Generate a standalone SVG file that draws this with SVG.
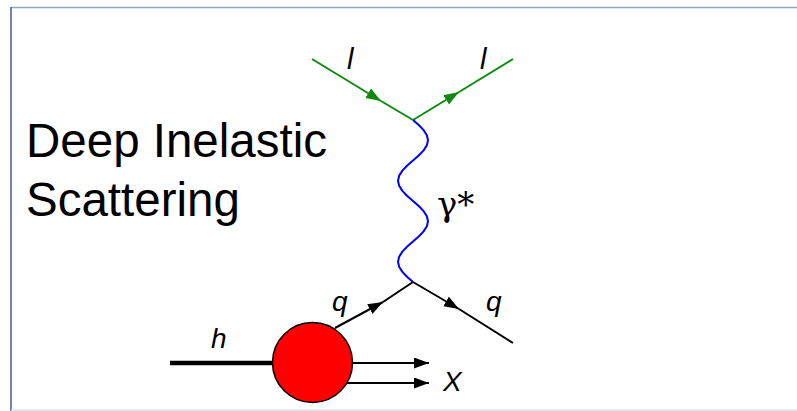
<svg xmlns="http://www.w3.org/2000/svg" width="797" height="411" viewBox="0 0 797 411">
<style>
  .lab { font-family: "Liberation Sans", Arial, sans-serif; font-style: italic; fill: #000; }
  .title { font-family: "Liberation Sans", Arial, sans-serif; font-size: 47.5px; fill: #000; }
  .lep { stroke: #118811; stroke-width: 2; fill: none; }
  .qk { stroke: #000; stroke-width: 2; fill: none; }
</style>
<defs>
  <marker id="ag" markerUnits="userSpaceOnUse" markerWidth="16" markerHeight="12" refX="15" refY="5.5" orient="auto">
    <path d="M0,0 L15,5.5 L0,11 z" fill="#118811"/>
  </marker>
  <marker id="ak" markerUnits="userSpaceOnUse" markerWidth="16" markerHeight="12" refX="15" refY="5.5" orient="auto">
    <path d="M0,0 L15,5.5 L0,11 z" fill="#000"/>
  </marker>
</defs>
<rect x="0" y="0" width="797" height="411" fill="#fff"/>
<g id="frame">
  <line x1="11" y1="7.5" x2="797" y2="7.5" stroke="#8fa6c6" stroke-width="1.5"/>
  <line x1="11" y1="7" x2="11" y2="411" stroke="#3b5f98" stroke-width="1.5"/>
  <line x1="11" y1="410" x2="797" y2="410" stroke="#dde4f2" stroke-width="1.5"/>
</g>
<g id="title">
  <text class="title" x="26" y="157">Deep Inelastic</text>
  <text class="title" x="26" y="216">Scattering</text>
</g>
<g id="connectors">
  <line class="lep" x1="312" y1="59" x2="381" y2="101" marker-end="url(#ag)"/>
  <line class="lep" x1="381" y1="101" x2="413" y2="120"/>
  <line class="lep" x1="413" y1="120" x2="459" y2="92" marker-end="url(#ag)"/>
  <line class="lep" x1="459" y1="92" x2="513" y2="59"/>
  <polyline id="photon" fill="none" stroke="#0000ff" stroke-width="2" stroke-linejoin="round" points="413,120 418.74,125.06 423.61,130.13 426.86,135.19 428,140.25 426.86,145.31 423.61,150.38 418.74,155.44 413,160.5 407.26,165.56 402.39,170.63 399.14,175.69 398,180.75 399.14,185.81 402.39,190.88 407.26,195.94 413,201 418.74,206.06 423.61,211.13 426.86,216.19 428,221.25 426.86,226.31 423.61,231.38 418.74,236.44 413,241.5 407.26,246.56 402.39,251.63 399.14,256.69 398,261.75 399.14,266.81 402.39,271.88 407.26,276.94 413,282"/>
  <line class="qk" x1="335" y1="328" x2="383" y2="302" marker-end="url(#ak)"/>
  <line class="qk" x1="383" y1="302" x2="413" y2="282"/>
  <line class="qk" x1="413" y1="282" x2="459" y2="309" marker-end="url(#ak)"/>
  <line class="qk" x1="459" y1="309" x2="513" y2="343"/>
  <line x1="170" y1="363" x2="275" y2="363" stroke="#000" stroke-width="4.5"/>
  <line class="qk" x1="350" y1="363" x2="429" y2="363" marker-end="url(#ak)"/>
  <line class="qk" x1="346" y1="383" x2="429" y2="383" marker-end="url(#ak)"/>
</g>
<g id="hadron">
  <circle cx="312.5" cy="362.5" r="40" fill="#ff0000" stroke="#000" stroke-width="1.5"/>
</g>
<g id="labels">
  <text class="lab" x="347" y="69" font-size="29">l</text>
  <text class="lab" x="480" y="69" font-size="29">l</text>
  <text x="437" y="216" font-family="'DejaVu Serif', serif" font-size="34" fill="#000">γ*</text>
  <text class="lab" x="332" y="311" font-size="28">q</text>
  <text class="lab" x="486" y="311" font-size="28">q</text>
  <text class="lab" x="211" y="348" font-size="28">h</text>
  <text class="lab" x="443" y="391" font-size="28">X</text>
</g>
</svg>
